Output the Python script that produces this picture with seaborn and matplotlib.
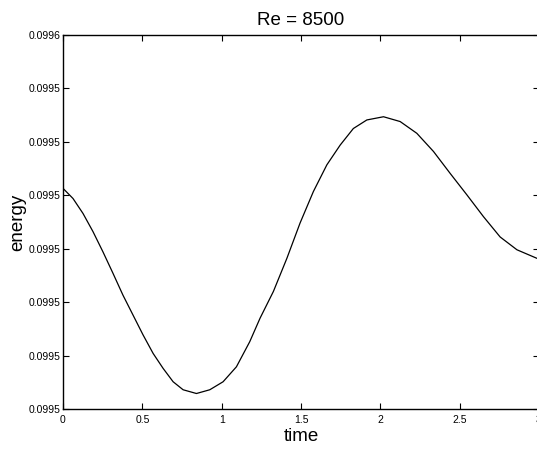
import numpy as np
import pandas as pd
import matplotlib
matplotlib.use('Agg')
import matplotlib.pyplot as plt
import seaborn as sns

# values
time = [0.000, 0.063, 0.126, 0.189, 0.252, 0.315, 0.378, 0.441, 0.504, 0.568,
        0.631, 0.694, 0.757, 0.841, 0.925, 1.009, 1.093, 1.177, 1.242, 1.326,
        1.411, 1.494, 1.578, 1.663, 1.747, 1.830, 1.915, 2.020, 2.125, 2.230,
        2.335, 2.440, 2.545, 2.650, 2.755, 2.861, 2.987, 3.000]
energy = [0.0995213, 0.0995194, 0.0995166, 0.0995132, 0.0995094, 0.0995054,
          0.0995013, 0.0994976, 0.0994939, 0.0994904, 0.0994876, 0.0994851,
          0.0994836, 0.0994829, 0.0994836, 0.0994851, 0.0994879, 0.0994926,
          0.0994970, 0.0995020, 0.0995082, 0.0995148, 0.0995207, 0.0995257,
          0.0995294, 0.0995325, 0.0995341, 0.0995347, 0.0995338, 0.0995316,
          0.0995282, 0.0995241, 0.0995201, 0.0995160, 0.0995122, 0.0995098,
          0.0995082, 0.0995082]

x_ticks = [0, 0.5, 1, 1.5, 2, 2.5, 3]
x_ticklabels = ['0', '0.5', '1', '1.5', '2', '2.5', '3']
y_ticks = [0.09948, 0.09949, 0.09950, 0.09951, 0.09952, 0.09953, 0.09954, 0.09955]
y_ticklabels = ['0.0995'] * 7 + ['0.0996']

data = pd.DataFrame({'time': time, 'energy': energy})

sns.set_style('ticks')
plt.rcParams['font.family'] = ['Liberation Sans', 'DejaVu Sans']
plt.rcParams['text.color'] = 'black'
plt.rcParams['axes.labelcolor'] = 'black'

fig = plt.figure(figsize=(5.37, 4.49), dpi=100)
ax = fig.add_axes([63 / 537, 40 / 449, 476 / 537, 374 / 449])

sns.lineplot(x='time', y='energy', data=data, color='black', linewidth=0.9, ax=ax)

ax.set_xlim(0, 3)
ax.set_ylim(y_ticks[0], y_ticks[-1])
ax.set_xticks(x_ticks)
ax.set_xticklabels(x_ticklabels)
ax.set_yticks(y_ticks)
ax.set_yticklabels(y_ticklabels)

ax.tick_params(direction='in', length=4, width=0.8, labelsize=7.5,
               top=True, right=True, colors='black')
ax.tick_params(axis='x', pad=4)
ax.tick_params(axis='y', pad=1.5)
for s in ax.spines.values():
    s.set_linewidth(1.0)
    s.set_color('black')

ax.set_title('Re = 8500', fontsize=13.5, pad=7, color='black')
ax.set_xlabel('time', fontsize=13.5)
ax.set_ylabel('energy', fontsize=13.5)
ax.xaxis.set_label_coords(0.5, -0.05)
ax.xaxis.label.set_va('top')
ax.yaxis.set_label_coords(-0.078, 0.5)

fig.savefig('out.png', dpi=100)
